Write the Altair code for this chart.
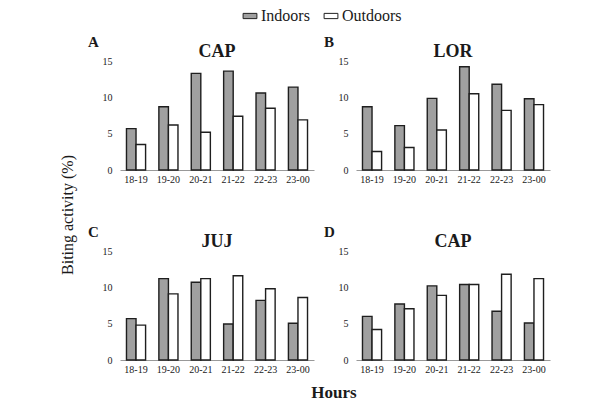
import altair as alt
import pandas as pd

hours = ["18-19", "19-20", "20-21", "21-22", "22-23", "23-00"]
types = ["Indoors", "Outdoors"]

cap_a_in = [5.7, 8.7, 13.3, 13.6, 10.6, 11.4]
cap_a_out = [3.5, 6.2, 5.2, 7.4, 8.5, 6.9]
lor_in = [8.7, 6.1, 9.85, 14.2, 11.8, 9.8]
lor_out = [2.55, 3.1, 5.5, 10.5, 8.2, 9.0]
juj_in = [5.7, 11.2, 10.7, 4.95, 8.2, 5.05]
juj_out = [4.8, 9.1, 11.2, 11.6, 9.8, 8.6]
cap_d_in = [6.0, 7.7, 10.2, 10.4, 6.7, 5.1]
cap_d_out = [4.2, 7.05, 8.9, 10.4, 11.8, 11.2]

SERIF = "Liberation Serif"
TXT = "#1a1a1a"
W, H = 194, 109


def panel(letter, title, ins, outs, extra=None):
    rows = []
    for h, a, b in zip(hours, ins, outs):
        rows.append({"hour": h, "type": "Indoors", "value": a})
        rows.append({"hour": h, "type": "Outdoors", "value": b})
    df = pd.DataFrame(rows)
    bars = alt.Chart(df).mark_bar(stroke="#1e1e1e", strokeWidth=1.4).encode(
        x=alt.X("hour:N", sort=hours,
                scale=alt.Scale(paddingInner=0.41, paddingOuter=0.2),
                axis=alt.Axis(title=None, labelAngle=0, ticks=False,
                              domainColor="#999", domainWidth=1,
                              labelFont=SERIF, labelFontSize=10,
                              labelColor=TXT, labelPadding=4)),
        xOffset=alt.XOffset("type:N", sort=types),
        y=alt.Y("value:Q", scale=alt.Scale(domain=[0, 15]),
                axis=alt.Axis(values=[0, 5, 10, 15], domain=False, ticks=False,
                              grid=False, title=None, labelFont=SERIF,
                              labelFontSize=10, labelColor=TXT, labelPadding=8)),
        fill=alt.Fill("type:N", sort=types,
                      scale=alt.Scale(domain=types, range=["#a0a0a0", "#ffffff"]),
                      legend=alt.Legend(title=None, orient="none", direction="horizontal",
                                        legendX=122, legendY=-53,
                                        symbolType="M-1,-0.38L1,-0.38L1,0.38L-1,0.38Z",
                                        symbolSize=190, symbolStrokeColor="#222",
                                        symbolStrokeWidth=1,
                                        labelFont=SERIF, labelFontSize=16,
                                        labelColor=TXT, columnPadding=12,
                                        labelOffset=3)),
    )
    lt = alt.Chart(pd.DataFrame({"t": [letter]})).mark_text(
        font=SERIF, fontSize=15, fontWeight="bold", color=TXT,
        align="left", baseline="alphabetic"
    ).encode(text="t:N", x=alt.value(-32), y=alt.value(-14))
    ttl = alt.Chart(pd.DataFrame({"t": [title]})).mark_text(
        font=SERIF, fontSize=18, fontWeight="bold", color=TXT,
        align="center", baseline="alphabetic"
    ).encode(text="t:N", x=alt.value(W / 2), y=alt.value(-4))
    layers = [bars, lt, ttl]
    if extra is not None:
        layers += extra
    return alt.layer(*layers).properties(width=W, height=H)


ytitle = alt.Chart(pd.DataFrame({"t": ["Biting activity (%)"]})).mark_text(
    font=SERIF, fontSize=16, color=TXT, angle=270, align="center", baseline="middle"
).encode(text="t:N", x=alt.value(-52), y=alt.value(154))

xtitle = alt.Chart(pd.DataFrame({"t": ["Hours"]})).mark_text(
    font=SERIF, fontSize=17, fontWeight="bold", color=TXT, align="center", baseline="middle"
).encode(text="t:N", x=alt.value(214), y=alt.value(142))

pa = panel("A", "CAP", cap_a_in, cap_a_out, [ytitle])
pb = panel("B", "LOR", lor_in, lor_out)
pc = panel("C", "JUJ", juj_in, juj_out, [xtitle])
pd_ = panel("D", "CAP", cap_d_in, cap_d_out)

chart = alt.concat(pa, pb, pc, pd_, columns=2, bounds="flush", spacing={"row": 81, "column": 42}).properties(
    padding={"left": 52, "top": 0, "right": 5, "bottom": 5}
).configure(
    background="white", font=SERIF
).configure_view(
    stroke=None
).configure_axis(
    labelFont=SERIF, titleFont=SERIF
).configure_legend(
    labelFont=SERIF, titleFont=SERIF
).configure_text(
    font=SERIF
)

chart.save("out.html", embed_options={"renderer": "svg", "actions": False})
